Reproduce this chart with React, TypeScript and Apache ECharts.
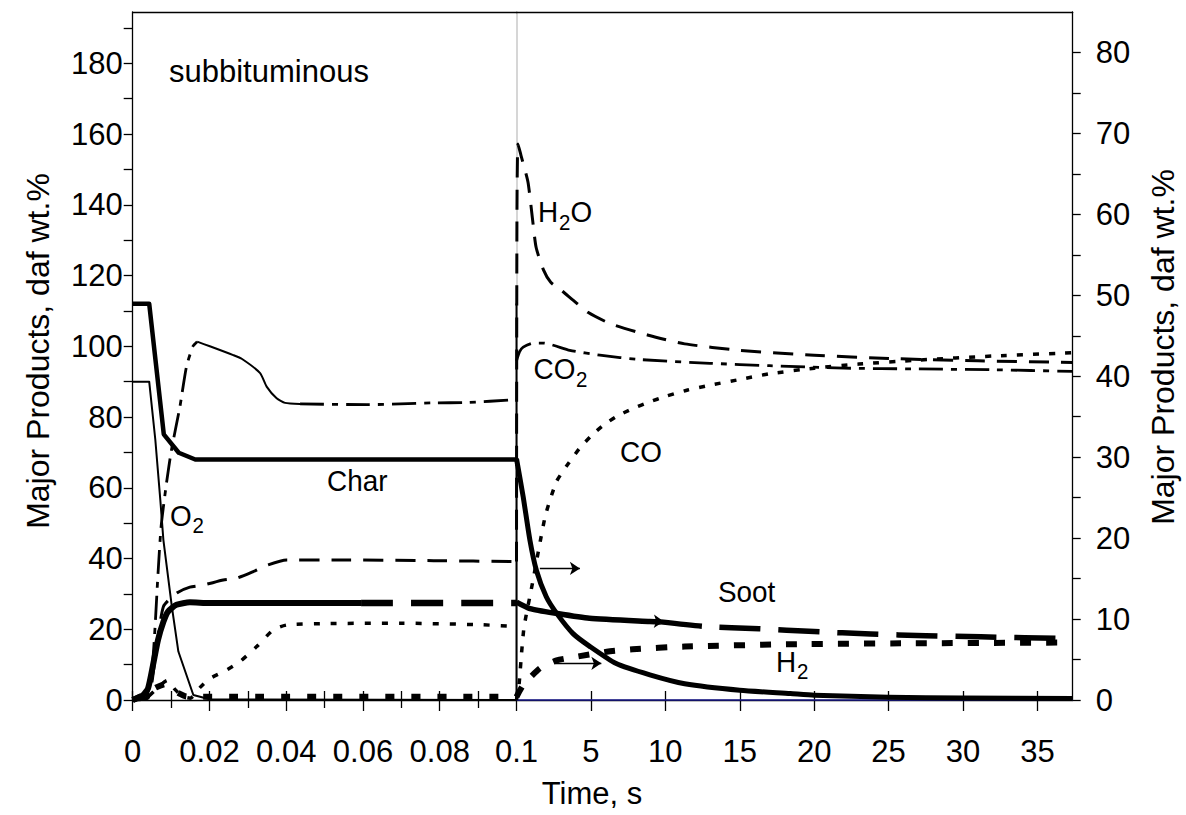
import React, { useEffect, useRef } from "react";
import * as echarts from "echarts";

const FONT = "'Liberation Sans', Arial, Helvetica, sans-serif";

// ---- axis ticks / labels ----
const leftTimeMajor = [0, 0.02, 0.04, 0.06, 0.08, 0.1];
const leftTimeMinor = [0.01, 0.03, 0.05, 0.07, 0.09];
const leftTimeAll = [0, 0.01, 0.02, 0.03, 0.04, 0.05, 0.06, 0.07, 0.08, 0.09, 0.1];
const rightTimeTicks = [5, 10, 15, 20, 25, 30, 35];
const leftYTicks = [0, 10, 20, 30, 40, 50, 60, 70, 80, 90, 100, 110, 120, 130, 140, 150, 160, 170, 180, 190];
const leftYLabels = [0, 20, 40, 60, 80, 100, 120, 140, 160, 180];
const rightYTicks = [0, 5, 10, 15, 20, 25, 30, 35, 40, 45, 50, 55, 60, 65, 70, 75, 80];
const rightYLabels = [0, 10, 20, 30, 40, 50, 60, 70, 80];
const leftTimeMax = 0.1;
const rightTimeMax = 37.37;
const leftYMax = 194.5;
const rightYMax = 85;

// ---- left panel (0 - 0.1 s), left axis units ----
const charLeft = [[0, 112], [0.0043, 112], [0.0081, 75.1], [0.012, 69.9], [0.0163, 68.0], [0.03, 68], [0.1, 68]];
const o2Left = [[0, 90], [0.0043, 90], [0.0059, 73.5], [0.0072, 56.5], [0.008, 45.2], [0.0102, 26.4], [0.0119, 13.7], [0.0158, 1.4], [0.02, 0.2], [0.1, 0]];
const co2LeftRise = [[0, 0], [0.0036, 0.9], [0.0053, 12.2], [0.0066, 35.8], [0.0074, 49], [0.0088, 61.3], [0.0101, 70.7], [0.0123, 82.9], [0.014, 94.2], [0.0157, 100], [0.0168, 101.3]];
const co2LeftMid = [[0.0168, 101.3], [0.0201, 100], [0.0262, 97.5], [0.0285, 96.4], [0.0332, 92.4], [0.0349, 88.6], [0.0375, 85.3], [0.0397, 84.0], [0.0436, 83.7]];
const co2LeftTail = [[0.0436, 83.7], [0.061, 83.5], [0.0784, 84.0], [0.087, 84.1], [0.0997, 84.9]];
const h2oLeft = [[0, 0], [0.004, 0.5], [0.0059, 12.2], [0.008, 26.4], [0.0114, 30.2], [0.0149, 31.9], [0.0184, 32.5], [0.0236, 33.9], [0.027, 34.4], [0.0314, 36.3], [0.0353, 38.2], [0.0401, 39.6], [0.0523, 39.6], [0.0784, 39.4], [0.1, 39.1]];
const sootLeftSolid = [[0, 0], [0.0027, 1.4], [0.004, 3.3], [0.0053, 9.9], [0.0066, 17.0], [0.008, 22.1], [0.0092, 25.0], [0.0114, 26.9], [0.0149, 27.6], [0.02, 27.4], [0.0595, 27.4]];
const sootLeftDash = [[0.0595, 27.4], [0.1, 27.4]];
const coLeft = [[0, 0], [0.004, 1], [0.007, 4], [0.009, 5.5], [0.011, 3], [0.013, 1], [0.015, 0.5], [0.0175, 3.5], [0.02, 6], [0.0245, 8.5], [0.028, 10.9], [0.0323, 15.1], [0.0366, 19.8], [0.0401, 21.2], [0.05, 21.6], [0.07, 21.7], [0.09, 21.3], [0.1, 20.8]];
const h2Left = [[0, 0], [0.003, 1.5], [0.006, 3.5], [0.0085, 4.5], [0.011, 2.5], [0.014, 1], [0.018, 0.9], [0.1, 0.9]];

// ---- right panel (0.1 s onwards), right axis units ----
const charRight = [[0, 29.8], [0.45, 25.1], [0.9, 19.75], [1.34, 16.0], [2.0, 12.75], [2.7, 10.7], [3.8, 8.2], [4.94, 6.6], [6.7, 4.5], [8.96, 3.1], [11.3, 2.0], [15, 1.2], [18.4, 0.8], [20, 0.6], [25, 0.33], [30, 0.25], [37.37, 0.2]];
const sootRightSolid = [[0, 12.1], [0.9, 11.3], [2.7, 10.7], [4.9, 10.1], [8.96, 9.7], [9.7, 9.65]];
const sootRightDash = [[9.7, 9.65], [12.6, 9.1], [16.3, 8.8], [20, 8.45], [23.8, 8.15], [27.5, 7.95], [31.2, 7.8], [37.37, 7.6]];
const h2Right = [[0, 0.4], [0.45, 1.85], [1.57, 3.9], [2.7, 4.9], [4.05, 5.35], [6.06, 5.96], [7.8, 6.26], [11.3, 6.6], [18.8, 6.9], [26.2, 7.0], [37.37, 7.1]];
const coRight = [[0, 0], [0.18, 2.1], [0.34, 5.8], [0.51, 9.05], [1.07, 14.4], [1.61, 19.75], [1.97, 23.0], [2.69, 27.0], [3.4, 29.0], [4.2, 31.0], [5.0, 32.6], [5.8, 33.9], [6.7, 35.0], [7.8, 36.0], [8.9, 36.8], [10, 37.5], [11.5, 38.3], [13, 38.9], [15, 39.6], [17, 40.3], [20, 41.0], [23, 41.5], [27, 42.0], [32, 42.5], [37.37, 42.9]];
const h2oRight = [[0, 17.1], [0.03, 60], [0.1, 68.7], [0.3, 67.3], [0.77, 64], [1.07, 59.5], [1.32, 55.9], [1.82, 53.1], [2.3, 51.6], [3.02, 50.6], [3.8, 49.4], [4.8, 47.9], [6.3, 46.5], [8.8, 45.1], [11.3, 44.0], [15, 43.2], [20, 42.6], [25, 42.2], [31, 41.9], [37.37, 41.7]];
const co2Right = [[0, 41.9], [0.2, 43.0], [0.45, 43.6], [1.12, 44.1], [1.79, 44.1], [3.58, 43.2], [5.6, 42.6], [8.3, 42.06], [13, 41.6], [17, 41.3], [22, 41.0], [27, 40.9], [32, 40.8], [37.37, 40.6]];
const o2RightDrop = [[0, 49], [0, 0]];
const o2RightBase = [[0, 0], [37.37, 0]];

// arrows (right axis units)
const arrowCharLevel = 16.26;
const arrowH2Level = 4.53;
const arrowSootLevel = 9.7;

function line(name: string, data: number[][], side: 0 | 1, width: number, type: any, extra: any = {}) {
  return {
    type: "line",
    name,
    data,
    xAxisIndex: side === 0 ? 0 : 4,
    yAxisIndex: side === 0 ? 0 : 4,
    symbol: "none",
    showSymbol: false,
    clip: false,
    silent: true,
    smooth: 0.2,
    lineStyle: { color: "#000", width, type, cap: "butt", join: "round" },
    emphasis: { disabled: true },
    z: 3,
    ...extra,
  };
}

function txt(text: string, x: number, y: number, size = 30, sx = 0.93) {
  return {
    type: "text",
    x,
    y,
    scaleX: sx,
    silent: true,
    style: {
      text,
      font: `${size}px ${FONT}`,
      fill: "#000",
      align: "left",
      textAlign: "left",
      verticalAlign: "middle",
      textVerticalAlign: "middle",
    },
  };
}

function vtxt(text: string, x: number, y: number, size = 32) {
  return {
    type: "text",
    x,
    y,
    rotation: Math.PI / 2,
    silent: true,
    style: {
      text,
      font: `${size}px ${FONT}`,
      fill: "#000",
      align: "center",
      textAlign: "center",
      verticalAlign: "middle",
      textVerticalAlign: "middle",
    },
  };
}

const axisLine = { show: true, onZero: false, lineStyle: { color: "#000", width: 1.3 } };
const tickStyle = { color: "#000", width: 1.3 };
const labelStyle = { fontFamily: FONT, fontSize: 31, color: "#000" };
const fmt = (v: number) => String(+(+v).toFixed(3));

export default function App() {
  const ref = useRef<HTMLDivElement>(null);
  useEffect(() => {
    if (!ref.current) return;
    const chart = echarts.init(ref.current, undefined, { renderer: "svg" });
    const L = { left: 132.7, top: 12, width: 383.8, height: 688 };
    const R = { left: 516.5, top: 12, width: 556.2, height: 688 };
    const hiddenY = (g: number) => ({ gridIndex: g, type: "value", show: false, min: 0, max: 1 });
    const option: any = {
      animation: false,
      backgroundColor: "#fff",
      grid: [L, L, L, R, R],
      xAxis: [
        {
          gridIndex: 0, type: "value", position: "bottom", min: 0, max: leftTimeMax,
          axisLine,
          axisTick: { show: true, inside: false, length: 11, customValues: leftTimeMajor, lineStyle: tickStyle },
          axisLabel: { show: true, customValues: leftTimeMajor, margin: 36, formatter: fmt, ...labelStyle },
          splitLine: { show: false },
        },
        {
          gridIndex: 0, type: "value", position: "top", min: 0, max: leftTimeMax,
          axisLine, axisTick: { show: false }, axisLabel: { show: false }, splitLine: { show: false },
        },
        {
          gridIndex: 1, type: "value", position: "bottom", min: 0, max: leftTimeMax,
          axisLine: { show: false, onZero: false },
          axisTick: { show: true, inside: true, length: 9, customValues: leftTimeAll, lineStyle: tickStyle },
          axisLabel: { show: false }, splitLine: { show: false },
        },
        {
          gridIndex: 2, type: "value", position: "bottom", min: 0, max: leftTimeMax,
          axisLine: { show: false, onZero: false },
          axisTick: { show: true, inside: false, length: 8, customValues: leftTimeMinor, lineStyle: tickStyle },
          axisLabel: { show: false }, splitLine: { show: false },
        },
        {
          gridIndex: 3, type: "value", position: "bottom", min: 0, max: rightTimeMax,
          axisLine,
          axisTick: { show: true, inside: false, length: 11, customValues: rightTimeTicks, lineStyle: tickStyle },
          axisLabel: { show: true, customValues: rightTimeTicks, margin: 36, formatter: fmt, ...labelStyle },
          splitLine: { show: false },
        },
        {
          gridIndex: 3, type: "value", position: "top", min: 0, max: rightTimeMax,
          axisLine, axisTick: { show: false }, axisLabel: { show: false }, splitLine: { show: false },
        },
        {
          gridIndex: 4, type: "value", position: "bottom", min: 0, max: rightTimeMax,
          axisLine: { show: false, onZero: false },
          axisTick: { show: true, inside: true, length: 9, customValues: rightTimeTicks, lineStyle: tickStyle },
          axisLabel: { show: false }, splitLine: { show: false },
        },
      ],
      yAxis: [
        {
          gridIndex: 0, type: "value", position: "left", min: 0, max: leftYMax,
          axisLine,
          axisTick: { show: true, inside: false, length: 9, customValues: leftYTicks, lineStyle: tickStyle },
          axisLabel: { show: true, customValues: leftYLabels, margin: 10, formatter: fmt, ...labelStyle },
          splitLine: { show: false },
        },
        {
          gridIndex: 0, type: "value", position: "right", min: 0, max: leftYMax,
          axisLine: { show: true, onZero: false, lineStyle: { color: "#c8c8c8", width: 1.5 } },
          axisTick: { show: false }, axisLabel: { show: false }, splitLine: { show: false },
        },
        hiddenY(1),
        hiddenY(2),
        {
          gridIndex: 3, type: "value", position: "right", min: 0, max: rightYMax,
          axisLine,
          axisTick: { show: true, inside: false, length: 8, customValues: rightYTicks, lineStyle: tickStyle },
          axisLabel: { show: true, customValues: rightYLabels, margin: 23, formatter: fmt, ...labelStyle },
          splitLine: { show: false },
        },
        hiddenY(4),
      ],
      series: [
        line("Char", charLeft, 0, 4.5, "solid", { smooth: false }),
        line("O2", o2Left, 0, 2, "solid", { smooth: false }),
        line("CO2 rise", co2LeftRise, 0, 2.8, [24, 8, 6, 8]),
        line("CO2 mid", co2LeftMid, 0, 2, "solid"),
        line("CO2 tail", co2LeftTail, 0, 2.8, [24, 8, 6, 8]),
        line("H2O", h2oLeft, 0, 3, [20, 12]),
        line("Soot", sootLeftSolid, 0, 6, "solid"),
        line("Soot dashed", sootLeftDash, 0, 6.5, [32, 18]),
        line("CO", coLeft, 0, 3.5, [6, 11]),
        line("H2", h2Left, 0, 6, [9, 17]),
        line("O2 base", o2RightBase, 1, 1.5, "solid", { smooth: false, lineStyle: { color: "#1a1a8c", width: 1.5, type: "solid" }, z: 2 }),
        line("O2 drop", o2RightDrop, 1, 2, "solid", { smooth: false }),
        line("Char R", charRight, 1, 5, "solid", {
          markLine: {
            silent: true,
            symbol: ["none", "arrow"],
            symbolSize: 10,
            label: { show: false },
            emphasis: { disabled: true },
            lineStyle: { color: "#000", width: 1.3, type: "solid" },
            data: [
              [{ coord: [1.57, arrowCharLevel] }, { coord: [4.26, arrowCharLevel] }],
              [{ coord: [2.57, arrowH2Level] }, { coord: [5.7, arrowH2Level] }],
              [{ coord: [8.6, arrowSootLevel + 0.05] }, { coord: [9.9, arrowSootLevel] }],
            ],
          },
        }),
        line("Soot R", sootRightSolid, 1, 5.5, "solid"),
        line("Soot R dashed", sootRightDash, 1, 5.5, [41, 18]),
        line("H2 R", h2Right, 1, 6, [11, 15]),
        line("CO R", coRight, 1, 3.5, [6, 10]),
        line("H2O R", h2oRight, 1, 3, [20, 12]),
        line("CO2 R", co2Right, 1, 2.8, [24, 8, 6, 8]),
      ],
      graphic: [
        txt("subbituminous", 169, 71, 31, 1),
        txt("Char", 327, 481),
        txt("O", 170, 516),
        txt("2", 192.5, 526, 22),
        txt("H", 538, 212),
        txt("2", 559, 222.5, 22),
        txt("O", 570.5, 212),
        txt("CO", 533.5, 369),
        txt("2", 576, 379.5, 22),
        txt("CO", 620, 451.5),
        txt("Soot", 718, 592),
        txt("H", 776, 662),
        txt("2", 797, 671.5, 22),
        {
          type: "text", x: 592, y: 793, silent: true,
          style: { text: "Time, s", font: `31px ${FONT}`, fill: "#000", align: "center", textAlign: "center", verticalAlign: "middle", textVerticalAlign: "middle" },
        },
        vtxt("Major Products, daf wt.%", 38, 351),
        vtxt("Major Products, daf wt.%", 1163, 347),
      ],
    };
    chart.setOption(option);
    return () => chart.dispose();
  }, []);
  return (
    <div
      ref={ref}
      style={{ position: "absolute", left: 0, top: 0, width: 1186, height: 815, background: "#fff" }}
    />
  );
}
